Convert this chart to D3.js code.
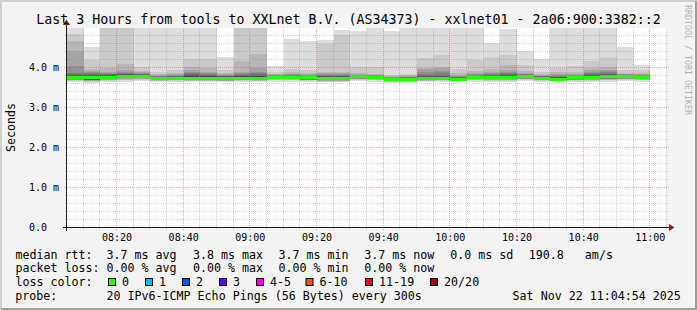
<!DOCTYPE html>
<html><head><meta charset="utf-8">
<script src="https://cdn.jsdelivr.net/npm/d3@7"></script>
<style>
html,body{margin:0;padding:0;background:#f3f3f3;}
svg{display:block;}
text{font-family:"DejaVu Sans Mono",monospace;fill:#000;}
</style></head><body>
<script>
// ---------------- data ----------------
const titleText = "Last 3 Hours from tools to XXLnet B.V. (AS34373) - xxlnet01 - 2a06:900:3382::2";
const timeDomain = ["08:05", "11:05"];
const slotStarts = ["08:05","08:10","08:15","08:20","08:25","08:30","08:35","08:40","08:45","08:50","08:55",
  "09:00","09:05","09:10","09:15","09:20","09:25","09:30","09:35","09:40","09:45","09:50","09:55",
  "10:00","10:05","10:10","10:15","10:20","10:25","10:30","10:35","10:40","10:45","10:50","10:55"];
const xTickLabels = ["08:20","08:40","09:00","09:20","09:40","10:00","10:20","10:40","11:00"];
const yTickValues = [0, 1, 2, 3, 4];
const yTickLabels = ["0.0", "1.0 m", "2.0 m", "3.0 m", "4.0 m"];
const yMax = 5;

// median rtt (ms) per 5-minute slot
const median = [3.75,3.74,3.75,3.78,3.78,3.72,3.73,3.72,3.72,3.72,3.73,3.72,3.75,3.75,3.74,3.72,3.72,3.77,3.75,3.70,3.70,3.72,3.73,3.71,3.75,3.75,3.75,3.77,3.73,3.71,3.74,3.75,3.77,3.77,3.74];
// sorted pings (ms), rank 1 = fastest ... rank 20 = slowest
const ping01 = [3.63,3.61,3.64,3.65,3.66,3.64,3.64,3.64,3.63,3.64,3.64,3.63,3.65,3.65,3.64,3.63,3.63,3.66,3.65,3.62,3.62,3.64,3.64,3.63,3.65,3.64,3.64,3.66,3.64,3.63,3.64,3.64,3.65,3.66,3.65];
const ping02 = [3.66,3.64,3.67,3.68,3.69,3.66,3.665,3.66,3.655,3.66,3.665,3.655,3.68,3.68,3.665,3.65,3.65,3.69,3.68,3.64,3.64,3.66,3.665,3.655,3.68,3.67,3.67,3.69,3.665,3.655,3.67,3.67,3.68,3.69,3.68];
const ping03 = [3.68,3.66,3.69,3.70,3.71,3.67,3.68,3.67,3.67,3.67,3.68,3.67,3.695,3.695,3.68,3.665,3.665,3.71,3.695,3.65,3.65,3.67,3.68,3.67,3.695,3.69,3.69,3.71,3.68,3.67,3.685,3.69,3.70,3.71,3.695];
const ping04 = [3.69,3.67,3.70,3.72,3.72,3.68,3.69,3.68,3.68,3.675,3.69,3.68,3.705,3.705,3.69,3.675,3.675,3.72,3.705,3.66,3.66,3.68,3.69,3.675,3.705,3.70,3.70,3.72,3.69,3.675,3.695,3.70,3.71,3.72,3.705];
const ping05 = [3.70,3.68,3.71,3.73,3.73,3.685,3.695,3.685,3.685,3.68,3.695,3.685,3.71,3.71,3.695,3.68,3.68,3.725,3.71,3.665,3.665,3.685,3.695,3.68,3.71,3.71,3.71,3.725,3.695,3.68,3.70,3.71,3.72,3.725,3.71];
const ping06 = [3.705,3.69,3.715,3.74,3.74,3.69,3.70,3.69,3.69,3.682,3.70,3.69,3.715,3.715,3.70,3.685,3.685,3.73,3.715,3.67,3.67,3.69,3.70,3.685,3.715,3.715,3.715,3.73,3.70,3.685,3.705,3.715,3.725,3.73,3.715];
const ping07 = [3.71,3.695,3.72,3.745,3.745,3.695,3.705,3.695,3.695,3.684,3.705,3.695,3.72,3.72,3.705,3.69,3.69,3.735,3.72,3.672,3.672,3.695,3.705,3.69,3.72,3.72,3.72,3.735,3.705,3.69,3.71,3.72,3.73,3.735,3.72];
const ping08 = [3.72,3.70,3.725,3.75,3.75,3.70,3.71,3.70,3.70,3.686,3.71,3.70,3.725,3.725,3.71,3.695,3.695,3.74,3.725,3.675,3.675,3.70,3.71,3.695,3.725,3.725,3.725,3.74,3.71,3.695,3.715,3.725,3.735,3.74,3.725];
const ping09 = [3.725,3.71,3.73,3.755,3.755,3.705,3.715,3.705,3.705,3.688,3.715,3.705,3.73,3.73,3.715,3.70,3.70,3.745,3.73,3.678,3.678,3.705,3.715,3.70,3.73,3.73,3.73,3.745,3.715,3.70,3.72,3.73,3.74,3.745,3.73];
const ping10 = [3.73,3.72,3.735,3.76,3.76,3.71,3.72,3.71,3.71,3.69,3.72,3.71,3.74,3.74,3.72,3.70,3.70,3.75,3.74,3.68,3.68,3.71,3.72,3.70,3.74,3.735,3.735,3.75,3.72,3.70,3.725,3.735,3.75,3.75,3.73];
const ping11 = [3.78,3.78,3.78,3.80,3.80,3.74,3.75,3.77,3.76,3.76,3.76,3.76,3.765,3.77,3.76,3.75,3.75,3.785,3.77,3.72,3.72,3.74,3.75,3.73,3.77,3.78,3.78,3.79,3.75,3.74,3.76,3.78,3.80,3.79,3.76];
const ping12 = [3.80,3.80,3.79,3.82,3.81,3.75,3.76,3.80,3.78,3.77,3.78,3.78,3.77,3.78,3.77,3.77,3.77,3.79,3.78,3.725,3.73,3.76,3.77,3.74,3.78,3.79,3.79,3.80,3.76,3.75,3.77,3.80,3.81,3.795,3.77];
const ping13 = [3.81,3.82,3.81,3.83,3.82,3.76,3.77,3.82,3.80,3.78,3.80,3.80,3.78,3.79,3.78,3.78,3.79,3.795,3.79,3.73,3.74,3.78,3.79,3.75,3.79,3.80,3.81,3.81,3.77,3.76,3.78,3.82,3.83,3.80,3.78];
const ping14 = [3.83,3.84,3.83,3.85,3.83,3.77,3.78,3.84,3.82,3.79,3.82,3.83,3.79,3.80,3.79,3.79,3.80,3.80,3.79,3.74,3.75,3.82,3.82,3.76,3.80,3.82,3.83,3.82,3.78,3.77,3.79,3.84,3.85,3.81,3.79];
const ping15 = [3.86,3.86,3.85,3.87,3.84,3.78,3.79,3.86,3.85,3.80,3.84,3.86,3.80,3.81,3.80,3.81,3.82,3.81,3.80,3.75,3.76,3.85,3.86,3.77,3.81,3.85,3.86,3.83,3.79,3.79,3.80,3.87,3.88,3.82,3.80];
const ping16 = [4.03,3.89,3.87,3.89,3.86,3.79,3.81,3.88,3.87,3.82,3.86,3.89,3.81,3.83,3.82,3.83,3.84,3.82,3.81,3.76,3.77,3.90,3.91,3.79,3.83,3.87,3.89,3.85,3.80,3.81,3.82,3.89,3.91,3.83,3.82];
const ping17 = [4.41,3.92,3.90,3.93,3.88,3.81,3.83,3.93,3.90,3.84,3.90,3.98,3.83,3.85,3.84,3.86,3.86,3.83,3.82,3.77,3.79,3.97,3.98,3.81,3.86,3.90,3.93,3.87,3.82,3.83,3.85,3.93,3.95,3.84,3.83];
const ping18 = [4.66,3.97,4.00,4.09,3.92,3.83,3.86,4.02,3.98,3.86,4.17,4.35,3.85,3.88,3.86,3.90,3.90,3.86,3.84,3.79,3.81,4.00,4.02,3.86,3.92,3.96,4.07,3.92,3.84,3.88,3.90,4.00,4.02,3.86,3.86];
const ping19 = [4.84,4.19,5.2,5.2,4.02,3.90,3.95,4.22,4.22,3.93,5.2,5.2,3.90,3.97,3.94,4.60,4.81,4.02,4.02,3.82,3.83,4.23,4.31,3.97,4.19,4.27,4.32,4.07,3.90,4.00,4.05,4.16,4.26,3.94,3.93];
const ping20 = [5.2,4.51,5.2,5.2,5.2,5.2,5.2,5.2,5.2,4.26,5.2,5.2,4.05,4.70,4.65,4.68,4.95,4.90,5.2,4.90,5.2,5.2,5.2,5.2,5.2,4.62,4.96,4.40,4.20,5.2,5.2,5.2,5.2,4.51,4.07];

const lossLabels = ["0", "1", "2", "3", "4-5", "6-10", "11-19", "20/20"];
const lossColors = ["#26ff00", "#00b8ff", "#0059ff", "#5e00ff", "#ff00ff", "#ff5500", "#ff0000", "#a00000"];
const rttStats = ["3.7 ms avg", "3.8 ms max", "3.7 ms min", "3.7 ms now", "0.0 ms sd", "190.8   am/s"];
const lossStats = ["0.00 % avg", "0.00 % max", "0.00 % min", "0.00 % now"];
const probeText = "20 IPv6-ICMP Echo Pings (56 Bytes) every 300s";
const dateText = "Sat Nov 22 11:04:54 2025";
const yLabel = "Seconds";
const watermark = "RRDTOOL / TOBI OETIKER";

// ---------------- drawing ----------------
const W = 697, H = 310;
const parse = s => new Date(2025, 10, 22, +s.slice(0, 2), +s.slice(3, 5));
const x = d3.scaleTime().domain(timeDomain.map(parse)).range([66.5, 666.5]);
const y = d3.scaleLinear().domain([0, yMax]).range([227.5, 27.5]);

const svg = d3.select("body").append("svg").attr("width", W).attr("height", H);
svg.append("rect").attr("width", W).attr("height", H).attr("fill", "#f3f3f3");
// 3D frame
svg.append("rect").attr("x", 0).attr("y", 0).attr("width", W).attr("height", 2).attr("fill", "#cfcfcf");
svg.append("rect").attr("x", 0).attr("y", 0).attr("width", 2).attr("height", H).attr("fill", "#cfcfcf");
svg.append("rect").attr("x", W - 2).attr("y", 1).attr("width", 2).attr("height", H - 1).attr("fill", "#9e9e9e");
svg.append("rect").attr("x", 1).attr("y", H - 2).attr("width", W - 1).attr("height", 2).attr("fill", "#9e9e9e");

// canvas
svg.append("rect").attr("x", 67).attr("y", 28).attr("width", 600).attr("height", 200).attr("fill", "#ffffff");
svg.append("defs").append("clipPath").attr("id", "clip")
  .append("rect").attr("x", 67).attr("y", 28).attr("width", 600).attr("height", 200);

const lows = [ping01, ping02, ping03, ping04, ping05, ping06, ping07, ping08, ping09, ping10];
const highs = [ping20, ping19, ping18, ping17, ping16, ping15, ping14, ping13, ping12, ping11];
const smokeColors = d3.range(10).map(i => {
  const c = Math.floor(190 / 10 * (10 - (i + 1))) + 50;
  return d3.rgb(c, c, c).formatHex();
});

const plot = svg.append("g").attr("clip-path", "url(#clip)").attr("shape-rendering", "crispEdges");
const step = 5 * 60 * 1000;
const halfLine = 0.0375;
slotStarts.forEach((s, i) => {
  const t0 = parse(s), t1 = new Date(+t0 + step);
  const x0 = Math.round(x(t0) + 0.5), x1 = Math.round(x(t1) + 0.5);
  for (let b = 0; b < 10; b++) {
    const top = Math.round(y(highs[b][i])), bot = Math.round(y(lows[b][i]));
    if (bot - top <= 0) continue;
    plot.append("rect").attr("x", x0).attr("width", x1 - x0)
      .attr("y", top).attr("height", bot - top).attr("fill", smokeColors[b]);
  }
  const mt = Math.round(y(median[i] + halfLine)), mb = Math.round(y(median[i] - halfLine));
  plot.append("rect").attr("x", x0).attr("width", x1 - x0)
    .attr("y", mt).attr("height", Math.max(2, mb - mt)).attr("fill", lossColors[0]);
});

// grid
const grid = svg.append("g");
const minorCol = "rgba(143,143,143,0.42)", majorCol = "rgba(222,79,79,0.5)";
const majorTimes = x.ticks(d3.timeMinute.every(20)).map(d => +d);
x.ticks(d3.timeMinute.every(5)).forEach(t => {
  const xx = Math.round(x(t) - 0.5) + 0.5;
  if (xx < 67) return;
  const major = majorTimes.includes(+t);
  grid.append("line").attr("x1", xx).attr("x2", xx).attr("y1", major ? 230 : 229).attr("y2", 28)
    .attr("stroke", major ? majorCol : minorCol).attr("stroke-width", 1).attr("stroke-dasharray", "1,1");
});
y.ticks(25).forEach(v => {
  if (v <= 0 || v >= yMax) return;
  const yy = Math.round(y(v) - 0.5) + 0.5;
  const major = Math.abs(v - Math.round(v)) < 1e-9;
  grid.append("line").attr("x1", major ? 64 : 65).attr("x2", major ? 670 : 669).attr("y1", yy).attr("y2", yy)
    .attr("stroke", major ? majorCol : minorCol).attr("stroke-width", 1).attr("stroke-dasharray", "1,1");
});

// axes
svg.append("line").attr("x1", 63).attr("x2", 671).attr("y1", 227.5).attr("y2", 227.5)
  .attr("stroke", "#1f1f1f").attr("stroke-width", 1);
svg.append("line").attr("x1", 66.5).attr("x2", 66.5).attr("y1", 231).attr("y2", 23)
  .attr("stroke", "#1f1f1f").attr("stroke-width", 1);
svg.append("path").attr("d", "M669,224L669,231L674.5,227.5Z").attr("fill", "#801f1f");
svg.append("path").attr("d", "M63,25L70,25L66.5,19.5Z").attr("fill", "#801f1f");

// axis labels
svg.append("g").selectAll("text").data(xTickLabels).join("text")
  .attr("x", d => x(parse(d)) + 0.5).attr("y", 241).attr("text-anchor", "middle")
  .attr("font-size", 10).text(d => d);
svg.append("g").selectAll("text").data(yTickValues).join("text")
  .attr("x", 29).attr("y", d => y(d) + 3.7).attr("font-size", 10)
  .attr("xml:space", "preserve").text((d, i) => yTickLabels[i]);

// title
svg.append("text").attr("x", 348.5).attr("y", 23.5).attr("text-anchor", "middle")
  .attr("font-size", 13.3).text(titleText);
// vertical label
svg.append("text").attr("transform", `translate(14.5,${(y(0) + y(yMax)) / 2}) rotate(-90)`)
  .attr("text-anchor", "middle").attr("font-size", 11.65).text(yLabel);
// watermark
svg.append("text").attr("transform", "translate(685,5) rotate(90)")
  .attr("font-size", 8.3).style("fill", "#b4b4b4").text(watermark);

// legend
const lg = svg.append("g").attr("font-size", 11.65);
const rows = [258.5, 272.3, 286, 299.8];
const statX = [106.5, 193, 278.5, 364.3, 450.3, 528.8];
lg.append("text").attr("x", 15.5).attr("y", rows[0]).text("median rtt:");
rttStats.forEach((s, i) => lg.append("text").attr("x", statX[i]).attr("y", rows[0])
  .attr("xml:space", "preserve").text(s));
lg.append("text").attr("x", 15.5).attr("y", rows[1]).text("packet loss:");
lossStats.forEach((s, i) => lg.append("text").attr("x", statX[i]).attr("y", rows[1])
  .attr("xml:space", "preserve").text(s));
lg.append("text").attr("x", 15.5).attr("y", rows[2]).text("loss color:");
const boxX = [108.5, 145.5, 182.5, 219.5, 256.5, 306, 365.5, 430.5];
lossLabels.forEach((l, i) => {
  lg.append("rect").attr("x", boxX[i]).attr("y", 278.5).attr("width", 7).attr("height", 7)
    .attr("fill", lossColors[i]).attr("stroke", "#000").attr("stroke-width", 1);
  lg.append("text").attr("x", boxX[i] + 13.6).attr("y", rows[2]).text(l);
});
lg.append("text").attr("x", 15.2).attr("y", rows[3]).text("probe:");
lg.append("text").attr("x", 106.5).attr("y", rows[3]).text(probeText);
lg.append("text").attr("x", 680.8).attr("y", rows[3]).attr("text-anchor", "end").text(dateText);
</script>
</body></html>
